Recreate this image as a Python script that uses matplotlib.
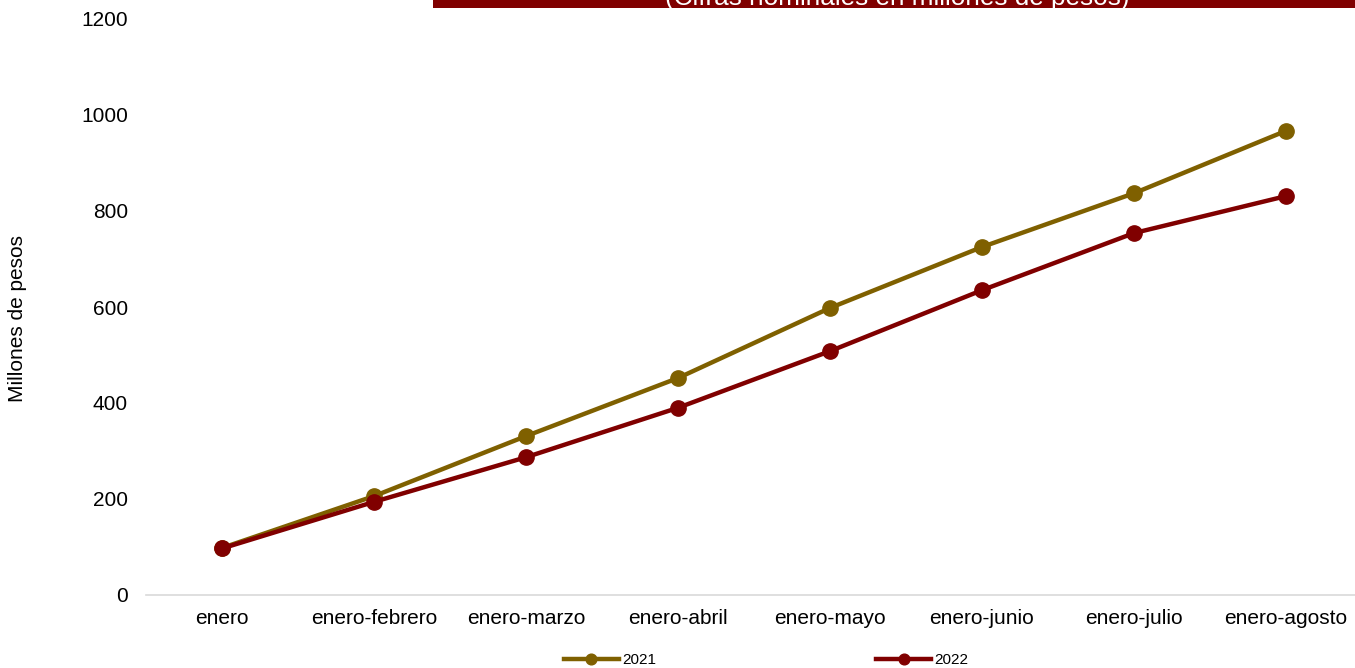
import matplotlib.pyplot as plt
from matplotlib.patches import Rectangle

plt.rcParams['font.family'] = ['Liberation Sans', 'DejaVu Sans']

periodos = ['enero', 'enero-febrero', 'enero-marzo', 'enero-abril',
            'enero-mayo', 'enero-junio', 'enero-julio', 'enero-agosto']
v2021 = [98, 206, 331, 452, 598, 725, 837, 967]
v2022 = [97, 194, 287, 390, 508, 635, 754, 831]

color_2021 = '#7F6000'
color_2022 = '#800000'

fig = plt.figure(figsize=(13.55, 6.68), dpi=100)
ax = fig.add_axes([146 / 1355, 1 - 595 / 668, (1362 - 146) / 1355, 576 / 668])

x = range(len(periodos))
ax.plot(x, v2021, color=color_2021, linewidth=3.2, marker='o', markersize=11,
        label='2021', zorder=3)
ax.plot(x, v2022, color=color_2022, linewidth=3.2, marker='o', markersize=11,
        label='2022', zorder=4)

ax.set_xlim(-0.5, 7.5)
ax.set_ylim(0, 1200)
ax.set_yticks(range(0, 1201, 200))
ax.set_xticks(list(x))
ax.set_xticklabels(periodos)
ax.tick_params(axis='both', length=0, labelsize=15, colors='black')
ax.tick_params(axis='x', pad=10)
ax.tick_params(axis='y', pad=13)
for s in ['top', 'right', 'left']:
    ax.spines[s].set_visible(False)
ax.spines['bottom'].set_color('#d9d9d9')
ax.spines['bottom'].set_linewidth(1.2)

fig.text(18 / 1355, 1 - 318 / 668, 'Millones de pesos', rotation=90,
         ha='center', va='center', fontsize=15)

# banner del titulo (recortado en la parte superior)
fig.patches.append(Rectangle((433 / 1355, 1 - 7.5 / 668), 0.7, 0.1,
                             transform=fig.transFigure, facecolor='#800000',
                             edgecolor='none', zorder=1))
fig.text(897 / 1355, 1 - 4.5 / 668, '(Cifras nominales en millones de pesos)',
         ha='center', va='baseline', fontsize=18.8, color='white', zorder=2)

fig.legend(loc='center', bbox_to_anchor=(766 / 1355, 1 - 660 / 668), ncol=2,
           frameon=False, fontsize=11, handlelength=3.6, columnspacing=14.4,
           handletextpad=0.2, markerscale=0.7)

fig.savefig('out.png', dpi=100)
